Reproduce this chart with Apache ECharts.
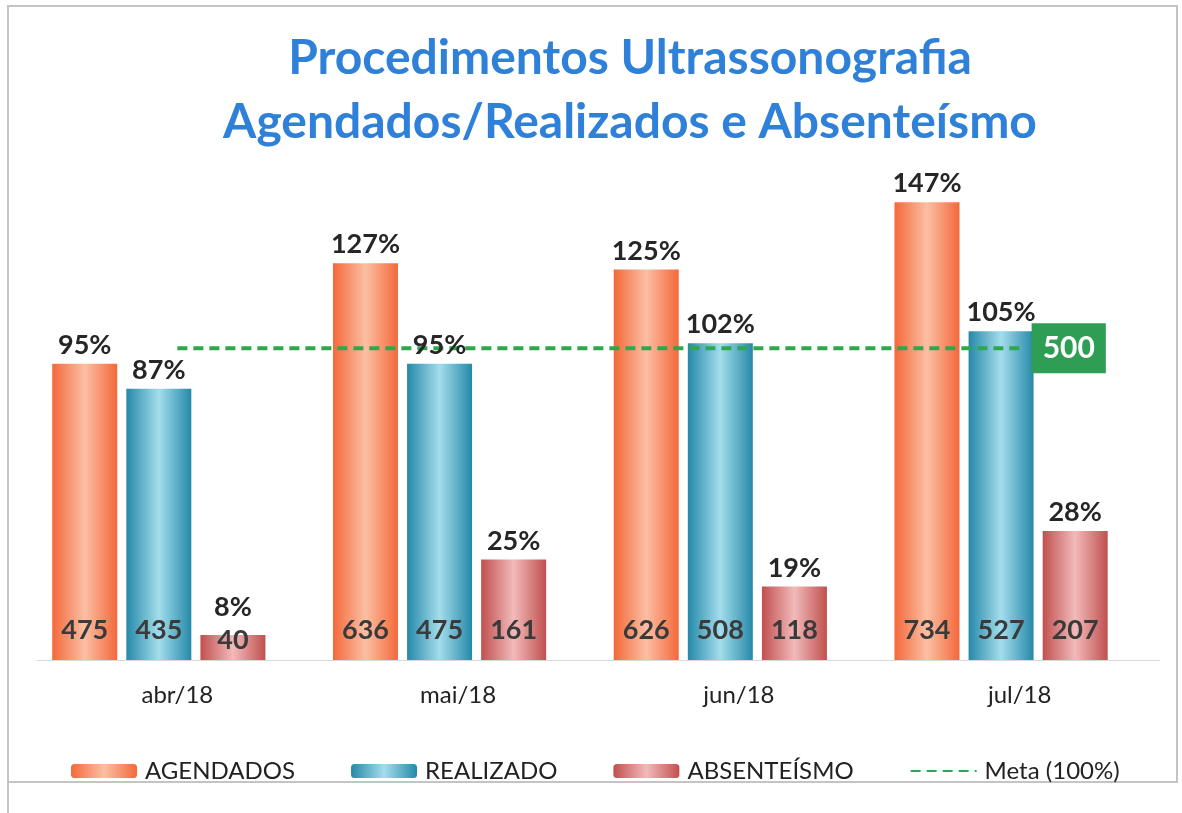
<!DOCTYPE html>
<html>
<head>
<meta charset="utf-8">
<script src="https://cdn.jsdelivr.net/npm/echarts@6/dist/echarts.min.js"></script>
<style>
html, body { margin: 0; padding: 0; background: #fff; }
#chart { width: 1182px; height: 813px; }
</style>
</head>
<body>
<div id="chart"></div>
<script>
const months = ['abr/18', 'mai/18', 'jun/18', 'jul/18'];
const agendados = [475, 636, 626, 734];
const realizado = [435, 475, 508, 527];
const absenteismo = [40, 161, 118, 207];
const agendadosPct = [95, 127, 125, 147];
const realizadoPct = [87, 95, 102, 105];
const absenteismoPct = [8, 25, 19, 28];
const meta = [500, 500, 500, 500];

const FONT = 'Lato';

function barGrad(edge, mid) {
  return new echarts.graphic.LinearGradient(0, 0, 1, 0, [
    { offset: 0, color: edge },
    { offset: 0.5, color: mid },
    { offset: 1, color: edge }
  ]);
}

const colors = {
  agendados: barGrad('#F4683A', '#FBBFA3'),
  realizado: barGrad('#2589A8', '#A3DDEC'),
  absent: barGrad('#C0504F', '#F2BABA')
};

const valueLabel = {
  show: true,
  position: 'insideBottom',
  distance: 16,
  color: '#3a3a3a',
  fontFamily: FONT,
  fontSize: 27,
  fontWeight: 'bold'
};

function pctLabel(pcts) {
  return {
    show: true,
    position: 'top',
    distance: 5,
    color: '#262626',
    fontFamily: FONT,
    fontSize: 27,
    fontWeight: 'bold',
    formatter: (p) => pcts[p.dataIndex] + '%'
  };
}

// very short bars: value label sits a bit lower and the % label gets pushed up
function shortBars(data, short) {
  return data.map(v => v < 60 ? { value: v, label: short } : v);
}

function bars(axis, name, data, color, label) {
  return {
    name: name,
    type: 'bar',
    xAxisIndex: axis,
    data: data,
    barWidth: 65,
    barGap: '14%',
    itemStyle: { color: color },
    label: label,
    z: axis === 0 ? 2 : 4
  };
}

function spacer(axis) {
  // Excel keeps an empty 4th slot in each group, which pushes the bars left
  return { type: 'bar', xAxisIndex: axis, data: [], barWidth: 28, silent: true };
}

const clear = 'rgba(0,0,0,0)';

let options = {
  graphic: [
    {
      type: 'rect',
      shape: { x: 8, y: 6, width: 1169, height: 776 },
      style: { fill: 'none', stroke: '#c4c4c4', lineWidth: 2 },
      silent: true
    },
    {
      type: 'line',
      shape: { x1: 8, y1: 782, x2: 8, y2: 813 },
      style: { stroke: '#c4c4c4', lineWidth: 2 },
      silent: true
    }
  ],
  title: {
    text: 'Procedimentos Ultrassonografia\nAgendados/Realizados e Absenteísmo',
    left: 625,
    textAlign: 'center',
    top: 22,
    textStyle: {
      color: '#2E80D8',
      fontFamily: FONT,
      fontSize: 48,
      fontWeight: 'bold',
      lineHeight: 64
    }
  },
  legend: {
    data: ['AGENDADOS', 'REALIZADO', 'ABSENTEÍSMO', { name: 'Meta (100%)', itemStyle: { opacity: 0 } }],
    left: 66,
    top: 754,
    itemWidth: 66,
    itemHeight: 14,
    itemGap: 56,
    selectedMode: false,
    textStyle: { fontFamily: FONT, fontSize: 24, color: '#222', padding: [0, 0, 0, 3] }
  },
  grid: { left: 37, right: 22, top: 161, bottom: 153 },
  xAxis: [
    {
      type: 'category',
      data: months,
      axisLine: { lineStyle: { color: '#d9d9d9', width: 1 } },
      axisTick: { show: false },
      axisLabel: { color: '#222', fontFamily: FONT, fontSize: 24, margin: 23 }
    },
    { type: 'category', data: months, show: false }
  ],
  yAxis: { type: 'value', min: 0, max: 800, show: false, splitLine: { show: false } },
  series: [
    bars(0, 'AGENDADOS', agendados, colors.agendados, valueLabel),
    bars(0, 'REALIZADO', realizado, colors.realizado, valueLabel),
    bars(0, 'ABSENTEÍSMO', shortBars(absenteismo, { distance: 6 }), colors.absent, valueLabel),
    spacer(0),
    bars(1, 'pctA', agendados, clear, pctLabel(agendadosPct)),
    bars(1, 'pctR', realizado, clear, pctLabel(realizadoPct)),
    bars(1, 'pctB', shortBars(absenteismo, { distance: 14 }), clear, pctLabel(absenteismoPct)),
    spacer(1),
    {
      name: 'Meta (100%)',
      type: 'line',
      xAxisIndex: 0,
      data: meta,
      symbol: 'none',
      z: 3,
      itemStyle: { color: '#2EA84C' },
      lineStyle: { color: '#2EA84C', width: 4, type: [10, 6] },
      endLabel: {
        show: true,
        formatter: '{c}',
        distance: 12,
        backgroundColor: '#2E9E55',
        color: '#fff',
        fontFamily: FONT,
        fontSize: 30,
        fontWeight: 'bold',
        padding: [11, 11, 9, 11]
      }
    }
  ]
};

let chart = echarts.init(document.getElementById('chart'));
chart.setOption(options);
</script>
</body>
</html>
